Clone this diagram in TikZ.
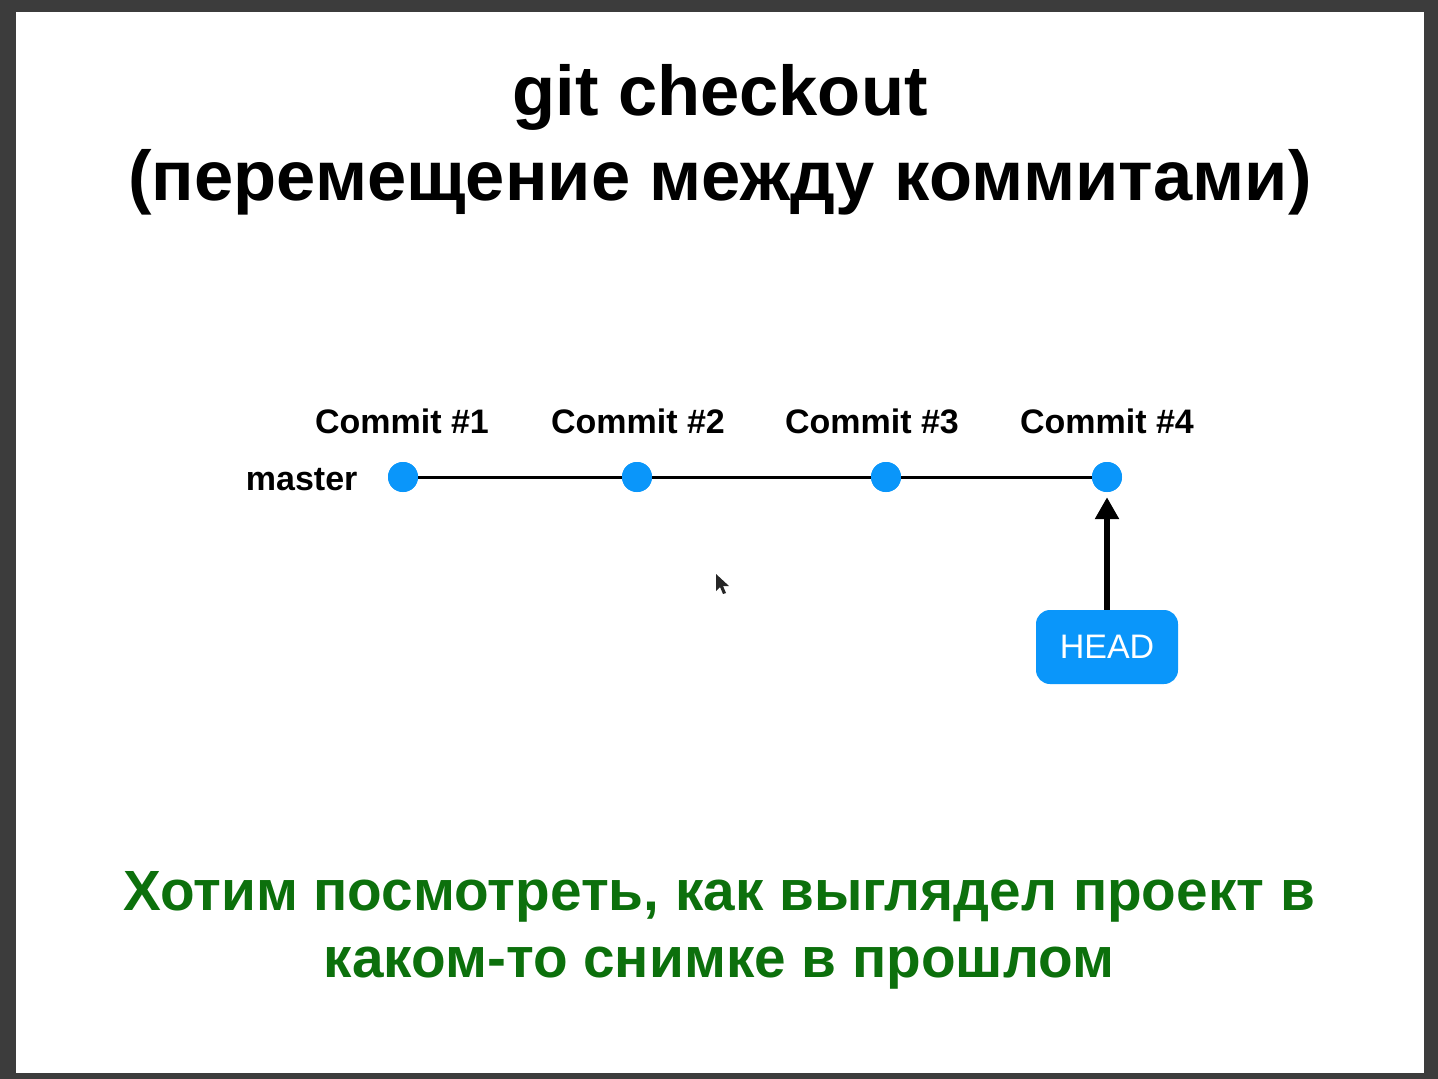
\documentclass[tikz,border=0pt]{standalone}
\usepackage{tikz}
\usetikzlibrary{arrows.meta,calc,positioning}
\usepackage{fontspec}
\setmainfont{Liberation Sans}
\usepackage{xcolor}
\definecolor{Slate}{RGB}{60,60,60}
\definecolor{Bleu}{RGB}{10,150,250}
\definecolor{Vert}{RGB}{12,112,12}
\tikzset{
  commit/.style={circle,fill=Bleu,minimum size=30pt,inner sep=0pt},
  clabel/.style={font=\fontsize{34}{40}\selectfont\bfseries,anchor=base},
  headbox/.style={fill=Bleu,rounded corners=14pt,minimum width=142pt,minimum height=74pt,
    text=white,font=\fontsize{34}{40}\selectfont},
}
\begin{document}
\begin{tikzpicture}[x=1pt,y=-1pt]
\fill[Slate] (0,0) rectangle (1438,1079);
\fill[white] (16,12) rectangle (1424,1073);
\useasboundingbox (0,0) rectangle (1438,1079);
%
\node[anchor=base,font=\fontsize{70.5}{84}\selectfont\bfseries] (title1) at (720,115) {git checkout};
\node[anchor=base,font=\fontsize{70.5}{84}\selectfont\bfseries] (title2) at (720,200) {(перемещение между коммитами)};
%
\node[commit] (c1) at (403,477) {};
\node[commit] (c2) at (637,477) {};
\node[commit] (c3) at (886,477) {};
\node[commit] (c4) at (1107,477) {};
\draw[line width=3pt] (c1) -- (c2) -- (c3) -- (c4);
\node[commit] at (c1) {};
\node[commit] at (c2) {};
\node[commit] at (c3) {};
\node[commit] at (c4) {};
%
\node[clabel] (l1) at (402,433) {Commit \#1};
\node[clabel] (l2) at (638,433) {Commit \#2};
\node[clabel] (l3) at (872,433) {Commit \#3};
\node[clabel] (l4) at (1107,433) {Commit \#4};
\node[clabel,anchor=base east] (master) at (361,490) {master};
%
\node[headbox] (head) at (1107,647) {HEAD};
\draw[line width=5.5pt,-{Triangle[length=22pt,width=23pt]},shorten >=5pt] (head) -- (c4);
%
\fill[black!85] (716,574) -- (716,591) -- (720,587) -- (723,594) -- (726,593) -- (723,586) -- (729,586) -- cycle;
%
\node[anchor=base,text=Vert,font=\fontsize{56.7}{64}\selectfont\bfseries] (note1) at (719,910) {Хотим посмотреть, как выглядел проект в};
\node[anchor=base,text=Vert,font=\fontsize{56.7}{64}\selectfont\bfseries] (note2) at (719,977) {каком-то снимке в прошлом};
\end{tikzpicture}
\end{document}
